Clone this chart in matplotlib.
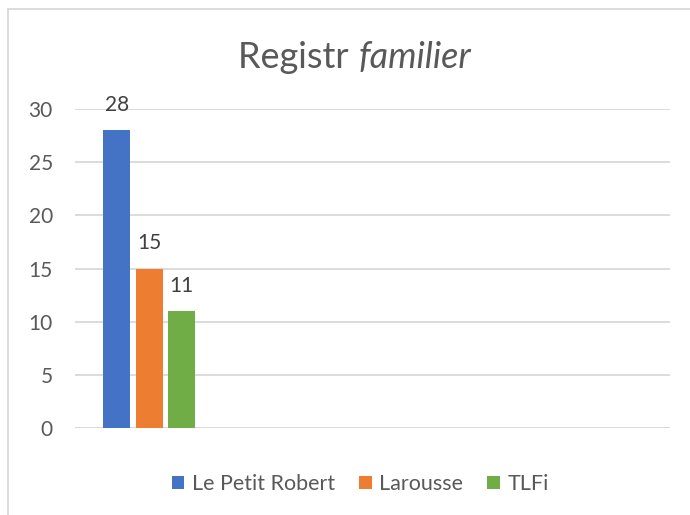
import matplotlib.pyplot as plt
from matplotlib.lines import Line2D
import numpy as np

plt.rcParams['font.family'] = ['Lato', 'DejaVu Sans']

# data
series_names = ['Le Petit Robert', 'Larousse', 'TLFi']
series_values = [28, 15, 11]
series_colors = ['#4472C4', '#ED7D31', '#70AD47']
n_slots = 4  # the category axis has room for 4 groups, only the first is filled
y_ticks = [0, 5, 10, 15, 20, 25, 30]

text_color = '#595959'
grid_color = '#D9D9D9'

fig = plt.figure(figsize=(6.9, 5.15), dpi=100)
ax = fig.add_axes([0.1087, 0.169, 0.8623, 0.619])

bar_width = 0.18
offsets = [-0.2185, 0.0, 0.2185]
for name, val, col, off in zip(series_names, series_values, series_colors, offsets):
    bars = ax.bar(0 + off, val, width=bar_width, color=col, label=name, zorder=3)
    ax.text(0 + off, val + 1.45, str(val), ha='center', va='bottom',
            fontsize=15, color='#404040')

ax.set_xlim(-0.5, n_slots - 0.5)
ax.set_ylim(0, 30)
ax.set_yticks(y_ticks)
ax.set_xticks([])
ax.yaxis.grid(True, color=grid_color, linewidth=1.3, zorder=0)
ax.tick_params(axis='y', length=0, pad=16, labelsize=15, labelcolor=text_color)
for s in ax.spines.values():
    s.set_visible(False)
ax.axhline(0, color=grid_color, linewidth=1.3, zorder=1)

# title with italic part, centred as a whole
t1 = fig.text(0.5, 0.889, 'Registr ', ha='left', va='center', fontsize=26,
              color=text_color)
t2 = fig.text(0.5, 0.889, 'familier', ha='left', va='center', fontsize=26,
              color=text_color, fontstyle='italic')
fig.canvas.draw()
r = fig.canvas.get_renderer()
w1 = t1.get_window_extent(r).width / fig.bbox.width
w2 = t2.get_window_extent(r).width / fig.bbox.width
left = 0.514 - (w1 + w2) / 2
t1.set_x(left)
t2.set_x(left + w1)

ax.legend(loc='center', bbox_to_anchor=(0.522, 0.06), bbox_transform=fig.transFigure,
          ncol=3, frameon=False, fontsize=15.5, labelcolor=text_color,
          handlelength=0.6, handleheight=0.6, handletextpad=0.35, columnspacing=1.1)

# chart border (only left and top visible in the frame)
fig.add_artist(Line2D([0.0123, 0.0123], [0, 0.982], transform=fig.transFigure,
                      color=grid_color, linewidth=1.3))
fig.add_artist(Line2D([0.0123, 1.0], [0.982, 0.982], transform=fig.transFigure,
                      color=grid_color, linewidth=1.3))

fig.savefig('out.png', dpi=100)
